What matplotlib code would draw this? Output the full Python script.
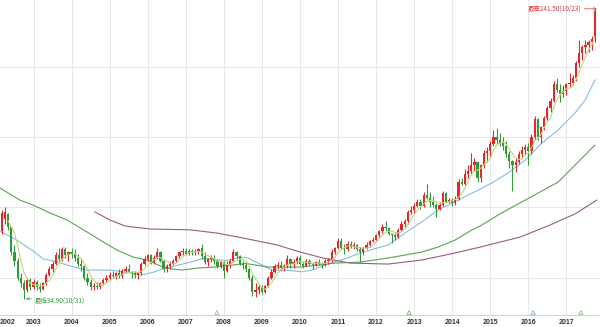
import numpy as np
import pandas as pd
import matplotlib
matplotlib.use("Agg")
import matplotlib.pyplot as plt

# monthly bars, index 0 = 2002-01
open_ = [
    78, 88, 83, 92, 95, 86, 68, 62, 50, 46, 41, 48,
    43, 47, 43, 42, 46, 52, 56, 60, 66, 63, 70, 66,
    68, 67, 64, 60, 58, 50, 47, 43, 44, 43, 46, 48,
    50, 52, 51, 53, 51, 55, 56, 54, 53, 52, 53, 60,
    63, 66, 61, 64, 68, 62, 56, 58, 60, 62, 65, 68,
    69, 67, 69, 68, 69, 71, 65, 61, 63, 64, 62, 58,
    61, 55, 60, 62, 68, 65, 60, 59, 56, 50, 40, 41,
    43, 40, 44, 50, 54, 58, 59, 57, 58, 63, 60, 61,
    64, 60, 58, 62, 60, 59, 61, 60, 59, 62, 62.5, 68,
    71, 76, 71, 70, 74, 72, 73, 70, 68, 71, 73, 76,
    77, 80, 83, 86, 85, 81, 80, 79, 84, 88, 90, 97,
    98, 101, 104, 101, 109, 107, 104, 102, 99, 102, 110, 104,
    105, 103, 106, 118, 117, 124, 126, 130, 132, 121, 130, 139,
    140, 145, 150, 148, 146, 144, 138, 133, 130, 132, 138, 141,
    143, 140, 150, 163, 150, 157, 164, 171, 176, 188, 184, 181,
    183, 188, 189, 192, 203, 210, 214, 216, 218, 220,
]
high = [
    90, 92, 98, 100, 96, 87, 73, 64, 53, 48, 50, 50,
    49, 48, 46, 47, 53, 58, 62, 68, 71, 72, 72, 69,
    71, 70, 67, 64, 59, 53, 49, 46, 47, 47, 50, 52,
    54, 55, 54, 56, 56, 58, 60, 55, 55, 54, 61, 65,
    67, 67, 66, 71, 69, 63, 60, 62, 63, 66, 69, 71,
    71, 70, 70, 70, 71, 74, 68, 64, 66, 66, 63, 62,
    62, 62, 63, 70, 69, 66, 62, 62, 57, 52, 46, 45,
    45, 45, 51, 56, 60, 61, 62, 60, 66, 64, 63, 65,
    66, 62, 63, 63, 61, 62, 63, 61, 63, 64, 70, 72,
    78, 78, 74, 76, 76, 75, 74, 72, 72, 75, 77, 79,
    81, 84, 88, 90, 86, 82, 82, 85, 90, 92, 98, 101,
    103, 106, 106, 111, 117, 111, 108, 103, 104, 112, 111, 107,
    107, 108, 120, 121, 127, 130, 139, 135, 133, 131, 141, 143,
    147, 155, 156.5, 153, 150, 147, 140, 134, 135, 140, 144, 145,
    146, 152, 165, 164, 158, 165, 172, 178, 190, 192, 188, 187,
    189, 196, 194, 204, 219, 216, 219, 219, 222, 241.5,
]
low = [
    76, 80, 81, 88, 84, 66, 58, 48, 43, 34.9, 40, 41,
    42, 41, 40, 41, 45, 51, 54, 59, 62, 62, 64, 62,
    64, 62, 58, 55, 48, 45, 41, 41, 42, 42, 45, 47,
    48, 50, 49, 50, 50, 53, 54, 50, 50, 49, 52, 59,
    62, 60, 60, 63, 61, 54, 54, 56, 59, 61, 64, 66,
    66, 66, 66, 66, 67, 63, 60, 58, 61, 60, 57, 57,
    49.5, 54, 57, 61, 63, 59, 56, 54, 48, 37, 36.4, 38,
    38, 39, 43, 49, 53, 56, 55, 55, 57, 57, 57, 60,
    59, 57, 58, 59, 56, 58, 59, 57, 58, 60, 61, 67,
    70, 70, 67, 69, 71, 70, 69, 61, 66, 70, 72, 75,
    76, 79, 82, 83, 80, 74.6, 77, 78, 83, 86, 88, 95,
    96, 100, 99, 100, 106, 100, 100, 93, 98, 101, 103, 103,
    101, 102, 105, 116, 116, 121, 124, 126, 118, 118, 128, 132,
    135, 144, 145, 144, 141, 136, 128, 112, 125, 131, 136, 138,
    130, 138, 149, 148, 146, 155, 162, 168, 175, 182, 175, 179,
    180, 186, 187, 190, 200, 205, 210, 211, 212, 218,
]
close = [
    88, 84, 96, 97, 86, 68, 62, 50, 46, 41, 48, 43,
    47, 43, 42, 46, 52, 56, 60, 66, 63, 70, 66, 68,
    67, 64, 60, 58, 50, 47, 43, 44, 43, 46, 48, 50,
    52, 51, 53, 51, 55, 56, 54, 53, 52, 53, 60, 63,
    66, 61, 64, 68, 62, 56, 58, 60, 62, 65, 68, 69,
    67, 69, 68, 69, 70, 65, 61, 63, 64, 62, 58, 61,
    55, 60, 62, 68, 65, 60, 59, 56, 50, 40, 41, 43,
    40, 44, 50, 54, 58, 59, 57, 58, 63, 60, 61, 64,
    60, 58, 62, 60, 59, 61, 60, 59, 62, 62.5, 68, 71,
    76, 71, 70, 74, 72, 73, 70, 68, 71, 73, 76, 77,
    80, 83, 86, 85, 81, 80, 79, 84, 88, 90, 97, 98,
    101, 104, 101, 109, 107, 104, 102, 99, 102, 110, 104, 105,
    103, 106, 118, 117, 124, 126, 130, 132, 121, 130, 139, 140,
    145, 150, 148, 146, 144, 138, 133, 130, 132, 138, 141, 143,
    140, 150, 163, 150, 157, 164, 171, 176, 188, 184, 181, 183,
    188, 189, 192, 203, 210, 214, 216, 218, 220, 240,
]

# longer averages, read at (month index, price)
ma20_m = [1.4, 6.7, 11.9, 15.1, 19.1, 24.4, 28.9, 36.1, 43.0, 46.2, 50.3, 53.5,
          57.0, 62.0, 66.0, 69.2, 73.0, 77.0, 79.6, 84.0, 87.2, 91.3, 96.6, 99.8,
          103.9, 107.0, 111.0, 114.9, 123.8, 129.1, 134.5, 139.5, 144.9, 149.0,
          152.8, 156.5, 161.6, 167.0, 172.3, 177.4, 182.7, 185.9, 189.0]
ma20_v = [83.1, 76.7, 68.9, 63.2, 61.4, 57.7, 55.3, 55.3, 53.2, 51.8, 54.1, 56.8,
          58.5, 61.3, 63.9, 62.5, 62.2, 64.6, 63.9, 58.9, 55.3, 55.3, 54.1, 55.3,
          58.9, 61.3, 63.9, 67.5, 73.2, 81.7, 89.8, 98.1, 104.0, 108.8,
          113.0, 117.4, 124.5, 133.7, 145.9, 155.1, 167.2, 176.5, 190.8]

ma60_m = [1.4, 7.7, 11.8, 17.2, 22.6, 28.9, 33.0, 38.3, 43.4, 47.8, 53.5, 58.8,
          63.9, 69.2, 74.6, 79.0, 85.9, 96.6, 107.0, 114.9, 123.8, 134.5, 139.5,
          144.9, 150.2, 152.8, 159.0, 167.0, 177.4, 189.0]
ma60_v = [113.8, 105.2, 101.7, 96.0, 91.0, 82.4, 76.7, 69.6, 64.6, 62.5, 56.8, 55.3,
          56.8, 57.5, 58.9, 60.0, 57.5, 57.5, 60.3, 61.0, 63.9, 68.2, 71.7,
          76.7, 83.9, 86.7, 95.3, 105.2, 118.0, 144.4]

ma120_m = [31.4, 36.1, 40.9, 48.7, 61.3, 69.8, 78.0, 88.8, 96.0, 103.3, 111.8,
           123.8, 134.5, 144.9, 152.8, 165.5, 174.8, 182.7, 189.6]
ma120_v = [96.7, 91.0, 86.7, 84.6, 84.0, 81.7, 78.2, 73.2, 68.2, 63.9, 60.3,
           59.6, 62.5, 67.5, 71.7, 78.9, 87.4, 95.3, 105.2]

year_labels = [str(y) for y in range(2002, 2018)]
year_ticks = [12 * i for i in range(len(year_labels))]

marker_m = [69.8, 130.4, 169.5, 184.6]
marker_c = ["#b0b0b0", "#6cb86c", "#7aaedc", "#8cc47a"]

UP = "#e8262a"
DOWN = "#2f9a3a"
CJK = ["Noto Sans CJK TC", "DejaVu Sans"]

o = np.array(open_, dtype=float)
h = np.array(high, dtype=float)
l = np.array(low, dtype=float)
c = np.array(close, dtype=float)
m = np.arange(len(c))
cols = np.where(c >= o, UP, DOWN)

fig = plt.figure(figsize=(6.0, 3.27), dpi=100)
ax = fig.add_axes([0, 12 / 327, 1, 315 / 327])
ax.set_xlim(1.43, 190.6)
ax.set_ylim(23.3, 247.8)

for t in year_ticks:
    ax.axvline(t, color="#e8e8e8", lw=0.7, zorder=0)
for v in (50, 100, 150, 200):
    ax.axhline(v, color="#e8e8e8", lw=0.7, zorder=0)

# candles
ax.vlines(m, l, h, colors=cols, lw=0.8, zorder=2)
body_lo = np.minimum(o, c)
body_h = np.maximum(np.abs(c - o), 0.5)
ax.bar(m, body_h, bottom=body_lo, width=0.7, color=cols, lw=0, zorder=3)

ma5 = pd.Series(c).rolling(5).mean()
ax.plot(m, ma5, color="#c3d67a", lw=0.8, zorder=4)
ax.plot(ma20_m, ma20_v, color="#86bcdf", lw=0.8, zorder=1)
ax.plot(ma60_m, ma60_v, color="#5aa352", lw=0.8, zorder=1)
ax.plot(ma120_m, ma120_v, color="#9a5d80", lw=0.8, zorder=1)

# extremes
ax.annotate("最高241.50(10/23)", xy=(m[-1] + 0.6, h[-1]), xytext=(-11, 0),
            textcoords="offset points", ha="right", va="center", fontsize=4.6,
            color="#d23a3a", family=CJK,
            arrowprops=dict(arrowstyle="->", color="#d23a3a", lw=0.5,
                            shrinkA=0, shrinkB=0))
i_lo = int(np.argmin(l))
ax.annotate("最低34.90(10/31)", xy=(m[i_lo] + 0.6, l[i_lo]), xytext=(6, -1),
            textcoords="offset points", ha="left", va="center", fontsize=4.6,
            color="#3a9a3a", family=CJK,
            arrowprops=dict(arrowstyle="->", color="#3a9a3a", lw=0.5,
                            shrinkA=0, shrinkB=0))

ax.scatter(marker_m, [25.0] * len(marker_m), marker="^", s=9,
           facecolors="white", edgecolors=marker_c, lw=0.6, zorder=5)

for side in ("top", "right", "left"):
    ax.spines[side].set_visible(False)
ax.spines["bottom"].set_color("#d0d0d0")
ax.spines["bottom"].set_linewidth(0.7)
ax.set_yticks([])
# the first year starts before the visible range, so its label sits at the left edge
label_pos = [3.9] + year_ticks[1:]
ax.set_xticks(label_pos)
ax.set_xticklabels(year_labels, fontsize=5, fontweight="bold", color="#333333",
                   family="Liberation Sans")
ax.tick_params(axis="x", length=0, pad=3)

fig.savefig("out.png", dpi=100)
